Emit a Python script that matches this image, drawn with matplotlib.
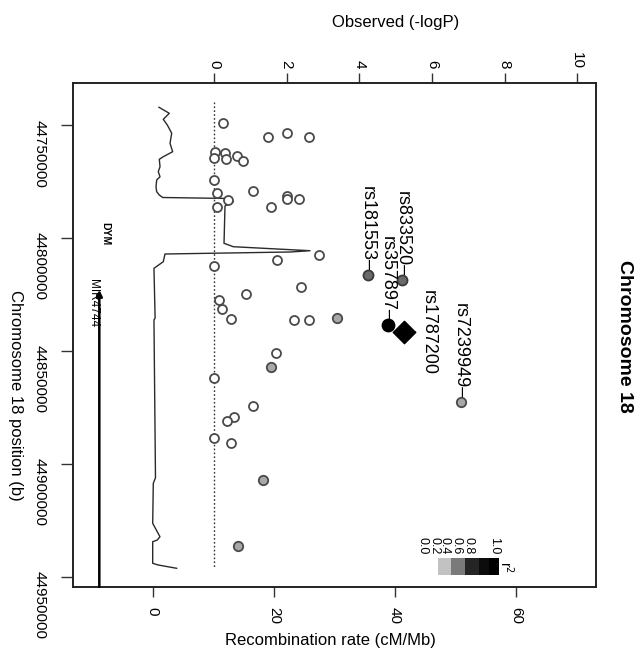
import matplotlib
matplotlib.use('Agg')
import matplotlib.pyplot as plt
from matplotlib.patches import Rectangle

plt.rcParams['font.family'] = ['Liberation Sans', 'DejaVu Sans']

# ---------------- data ----------------
# open (no LD info) SNPs: -logP, position
open_logp = [0.26, 1.48, 2.02, 2.62, 0.03, 0.00, 0.30, 0.32, 0.62, 0.79, 0.01, 0.09,
             0.39, 0.08, 1.08, 2.02, 2.00, 2.34, 1.57, 2.88, 1.74, 0.00, 2.40, 0.87,
             0.15, 0.22, 0.47, 2.20, 2.61, 1.70, 0.01, 1.07, 0.55, 0.35, 0.00, 0.46]
open_pos = [44749250, 44755180, 44753400, 44755300, 44761800, 44764500, 44762500, 44765000,
            44763700, 44766000, 44774200, 44780000, 44783200, 44786200, 44779200, 44781400,
            44782900, 44782800, 44786200, 44807400, 44809900, 44812300, 44821900, 44824700,
            44827500, 44831300, 44836000, 44836200, 44836200, 44850800, 44861900, 44874300,
            44879100, 44881000, 44888700, 44890900]

# low LD (r2 0.0-0.2)
low_logp = [3.38, 1.56, 1.35, 0.65, 6.79]
low_pos = [44835500, 44857000, 44907300, 44936300, 44872800]
# mid LD
mid_logp = [4.23, 5.19]
mid_pos = [44816400, 44818600]
# high LD
high_logp = [4.78]
high_pos = [44838600]
# index SNP
index_logp = [5.23]
index_pos = [44841700]

label_names = ['rs181553', 'rs833520', 'rs357897', 'rs7239949']
label_logp = [4.23, 5.19, 4.78, 6.79]
label_pos = [44816400, 44818600, 44838600, 44872800]
index_name = 'rs1787200'

# recombination rate
recomb_pos = [44742160, 44744820, 44747480, 44750000, 44752210, 44753680, 44758100, 44761820,
              44764040, 44765190, 44768460, 44770680, 44772890, 44774350, 44777320, 44779530,
              44781000, 44782100, 44782550, 44783960, 44785860, 44802380, 44803890, 44805660,
              44806230, 44807120, 44810530, 44813450, 44835460, 44836340, 44906170, 44908650,
              44926360, 44932290, 44933750, 44934500, 44944070, 44944820, 44946280]
recomb_rate = [1.04, 2.74, 1.75, 2.41, 2.86, 3.14, 2.86, 3.30,
               1.75, 1.09, 1.21, 0.92, 1.21, 0.66, 0.55, 0.66,
               1.09, 1.65, 13.05, 13.31, 11.94, 11.78, 13.31, 25.98,
               22.7, 2.03, 1.75, 0.21, 0.40, 0.21, 0.46, 0.10,
               0.0, 1.20, 0.76, 0.0, 0.0, 0.92, 3.96]

# genes
gene_name = 'MIR4744'
gene_start = 44823000
gene_end = 44954500
gene_row = -3.16
gene2_name = 'DYM'
gene2_pos = 44798000
gene2_row = -3.0

logp_ticks = [0, 2, 4, 6, 8, 10]
recomb_ticks = [0, 20, 40, 60]
pos_ticks = [44750000, 44800000, 44850000, 44900000, 44950000]
ld_labels = ['0.0', '0.2', '0.4', '0.6', '0.8', '1.0']
ld_colors = ['#c2c2c2', '#7a7a7a', '#252525', '#0c0c0c', '#000000']

# ---------------- figure ----------------
W, H = 638, 655
fig = plt.figure(figsize=(W / 100, H / 100), dpi=100)


def fx(px):
    return px / W


def fy(py):
    return 1 - py / H


L, R, T, B = 72.7, 596, 82.7, 587
ax = fig.add_axes([fx(L), fy(B), fx(R) - fx(L), fy(T) - fy(B)])
ax2 = ax.twiny()
ax.set_zorder(ax2.get_zorder() + 1)
ax.patch.set_visible(False)

ax.set_xlim(-3.893, 10.52)
ax.set_ylim(44954560, 44731270)
ax2.set_xlim(-13.21, 73.21)

edge = '#4a4a4a'
# recombination line
ax2.plot(recomb_rate, recomb_pos, color='#2a2a2a', lw=1.0)

# significance reference line
ax.vlines(0, 44740000, 44946000, colors='#333333', linestyles=(0, (1.2, 1.6)), lw=1.0)

ax.scatter(open_logp, open_pos, s=42, facecolors='white', edgecolors=edge, linewidths=1.3, zorder=3)
ax.scatter(low_logp, low_pos, s=46, facecolors='#a8a8a8', edgecolors=edge, linewidths=1.3, zorder=3)
ax.scatter(mid_logp, mid_pos, s=52, facecolors='#6a6a6a', edgecolors='#3a3a3a', linewidths=1.3, zorder=3)
ax.scatter(high_logp, high_pos, s=80, facecolors='black', edgecolors='black', linewidths=1.0, zorder=3)
ax.scatter(index_logp, index_pos, s=130, marker='D', facecolors='black', edgecolors='black', zorder=4)

for name, lx, ly in zip(label_names, label_logp, label_pos):
    ax.annotate(name + '\u2013', xy=(lx, ly), xytext=(0, 3.0), textcoords='offset points',
                rotation=-90, rotation_mode='anchor', ha='right', va='center', fontsize=13)
ax.annotate(index_name, xy=(index_logp[0], index_pos[0]), xytext=(17.5, 0),
            textcoords='offset points', rotation=-90, ha='center', va='center', fontsize=13,
            arrowprops=dict(arrowstyle='-', lw=1.0, color='black', shrinkA=1, shrinkB=7))

# gene track
ax.annotate('', xy=(gene_row, gene_start), xytext=(gene_row, gene_end),
            arrowprops=dict(arrowstyle='-|>', lw=1.8, color='black', mutation_scale=9,
                            shrinkA=0, shrinkB=0))
ax.text(gene_row - 0.17, gene_start + 6000, gene_name, rotation=-90, ha='center', va='center',
        fontsize=8.5)
ax.text(gene2_row, gene2_pos, gene2_name, rotation=-90, ha='center', va='center', fontsize=7.5,
        fontweight='bold')

# axes styling
for a in (ax, ax2):
    for s in a.spines.values():
        s.set_color('#222222')
        s.set_linewidth(1.2)

ax.set_xticks(logp_ticks)
ax.set_xticklabels([str(t) for t in logp_ticks])
ax.xaxis.tick_top()
ax.tick_params(axis='x', top=True, bottom=False, labeltop=True, labelbottom=False,
               labelrotation=-90, length=7, width=1, pad=3, labelsize=11, color='#333333')
ax.set_yticks(pos_ticks)
ax.set_yticklabels([str(t) for t in pos_ticks])
ax.tick_params(axis='y', labelrotation=-90, length=8.3, width=1, pad=10.5, labelsize=11,
               color='#333333')

ax2.set_xticks(recomb_ticks)
ax2.set_xticklabels([str(t) for t in recomb_ticks])
ax2.xaxis.tick_bottom()
ax2.tick_params(axis='x', top=False, bottom=True, labeltop=False, labelbottom=True,
                labelrotation=-90, length=7.2, width=1, pad=7, labelsize=11, color='#333333')

# axis titles
fig.text(fx(396), fy(22), 'Observed (-logP)', ha='center', va='center', fontsize=12)
fig.text(fx(330), fy(640), 'Recombination rate (cM/Mb)', ha='center', va='center', fontsize=12)
fig.text(fx(15), fy(395), 'Chromosome 18 position (b)', rotation=-90, ha='center', va='center',
         fontsize=12)
fig.text(fx(625), fy(336), 'Chromosome 18', rotation=-90, ha='center', va='center',
         fontsize=14, fontweight='bold')

# LD legend
sq_x = [438, 451.5, 465, 478.5, 488.5]
sq_w = [13.5, 13.5, 13.5, 10, 10]
for x0, w, c in zip(sq_x, sq_w, ld_colors):
    fig.add_artist(Rectangle((fx(x0), fy(575)), w / W, 17 / H, transform=fig.transFigure,
                             facecolor=c, edgecolor='none'))
lab_x = [423, 434, 445, 457, 468, 494]
for lx, t in zip(lab_x, ld_labels):
    fig.text(fx(lx), fy(546), t, rotation=-90, ha='center', va='center', fontsize=9)
fig.text(fx(506), fy(567), 'r$^2$', rotation=-90, ha='center', va='center', fontsize=10)

fig.savefig('out.png', dpi=100)
